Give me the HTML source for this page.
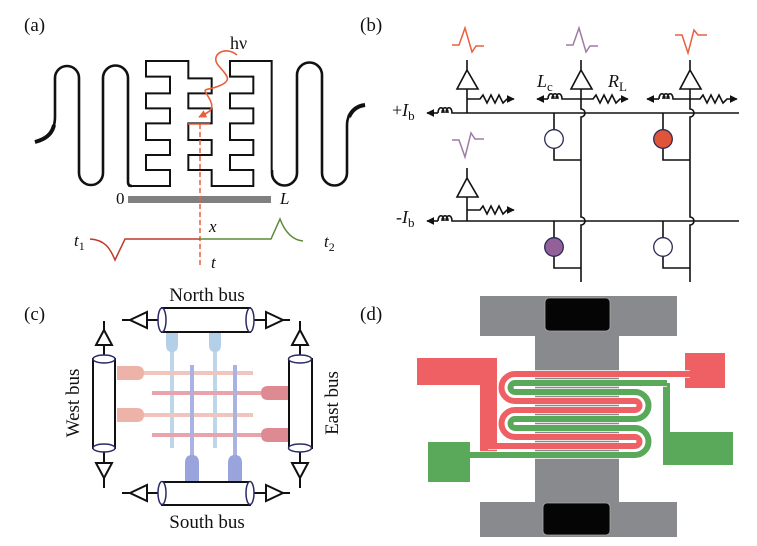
<!DOCTYPE html>
<html><head><meta charset="utf-8"><style>
html,body{margin:0;padding:0;background:#fff;}
svg{display:block;}
text{font-family:"Liberation Serif",serif;fill:#111;}
</style></head><body>
<svg width="757" height="546" viewBox="0 0 757 546" xmlns="http://www.w3.org/2000/svg">
<defs>
<marker id="ah" viewBox="0 0 10 10" refX="9" refY="5" markerWidth="5" markerHeight="5" orient="auto-start-reverse"><path d="M0,0 L10,5 L0,10 z" fill="#111"/></marker>
<marker id="ahr" viewBox="0 0 10 10" refX="9" refY="5" markerWidth="5" markerHeight="5" orient="auto-start-reverse"><path d="M0,0 L10,5 L0,10 z" fill="#e8603c"/></marker>
</defs>

<!-- ===== (a) ===== -->
<text x="24" y="31" font-size="19">(a)</text>
<path d="M35,142 C50,138 55,128 55,117 V78 A12,12 0 0 1 79,78 V173 A12,12 0 0 0 103,173 V78 A12.5,12.5 0 0 1 128,78 V182 Q128,186 132,186" fill="none" stroke="#111" stroke-width="2.6"/>
<path d="M35,142 C46,139 52,134 54,125" fill="none" stroke="#111" stroke-width="4"/>
<g transform="translate(120,55) scale(0.33333)">
<path d="M25,393 H150 V345 H78 V300 H150 V255 H78 V205 H150 V160 H78 V115 H150 V65 H78 V18 H205 V70 H275 V115 H205 V160 H275 V205 H205 V255 H275 V300 H205 V345 H275 V393 H400 V345 H330 V300 H400 V255 H330 V205 H400 V160 H330 V115 H400 V65 H330 V18 H455 V345" fill="none" stroke="#111" stroke-width="6"/>
</g>
<path d="M272,170 V173 A12.5,12.5 0 0 0 297,173 V75 A12.5,12.5 0 0 1 322,75 V173 A12.5,12.5 0 0 0 347,173 V125 C347,114 354,107 365,105" fill="none" stroke="#111" stroke-width="2.6"/>
<path d="M349,117 C352,110 357,106 365,105" fill="none" stroke="#111" stroke-width="4"/>
<rect x="128" y="196" width="143" height="7" fill="#808080"/>
<text x="116" y="204" font-size="17">0</text>
<text x="280" y="204" font-size="17" font-style="italic">L</text>
<line x1="200" y1="124" x2="200" y2="267" stroke="#e8603c" stroke-width="1.5" stroke-dasharray="5,3"/>
<line x1="188" y1="124" x2="210" y2="124" stroke="#e8603c" stroke-width="1.5"/>
<path d="M237,55 C225,45 210,55 218,65 S234,80 219,86 S202,86 209,98 S209,112 199,117" fill="none" stroke="#e8603c" stroke-width="1.6" marker-end="url(#ahr)"/>
<text x="230" y="49" font-size="18">hν</text>
<path d="M90,239 C105,240 110,248 115,260 L125,239 H200" fill="none" stroke="#c0392b" stroke-width="1.5"/>
<path d="M200,239 H271 L280,219 C285,232 292,240 303,241" fill="none" stroke="#5b8a3a" stroke-width="1.5"/>
<text x="74" y="246" font-size="17" font-style="italic">t<tspan font-size="12" dy="4" font-style="normal">1</tspan></text>
<text x="209" y="232" font-size="17" font-style="italic">x</text>
<text x="211" y="268" font-size="17" font-style="italic">t</text>
<text x="324" y="247" font-size="17" font-style="italic">t<tspan font-size="12" dy="4" font-style="normal">2</tspan></text>

<!-- ===== (b) ===== -->
<text x="360" y="31" font-size="19">(b)</text>
<g fill="none" stroke="#111" stroke-width="1.6">
<path d="M458,113 H739"/>
<path d="M458,221 H739"/>
<path d="M438,113 c0,-7 6,-7 6,0 m-2,0 c0,-7 6,-7 6,0 m-2,0 c0,-7 6,-7 6,0 H458"/>
<line x1="438" y1="113" x2="427" y2="113" marker-end="url(#ah)"/>
<path d="M438,221 c0,-7 6,-7 6,0 m-2,0 c0,-7 6,-7 6,0 m-2,0 c0,-7 6,-7 6,0 H458"/>
<line x1="438" y1="221" x2="427" y2="221" marker-end="url(#ah)"/>
<path d="M467,60 V70 M467,70 L457,89 H478 Z M467,89 V113"/>
<path d="M467,99 H480 l3,-4 l4,8 l4,-8 l4,8 l4,-8 l4,8 l4,-4 H514" marker-end="url(#ah)"/>
<path d="M467,168 V178 M467,178 L457,197 H478 Z M467,197 V221"/>
<path d="M467,210 H480 l3,-4 l4,8 l4,-8 l4,8 l4,-8 l4,8 l4,-4 H514" marker-end="url(#ah)"/>
<path d="M581,60 V70 M581,70 L571,89 H592 Z M581,89 V109 a4,4 0 0 1 0,8 V217 a4,4 0 0 1 0,8 V282"/>
<path d="M548,99 c0,-7 6,-7 6,0 m-2,0 c0,-7 6,-7 6,0 m-2,0 c0,-7 6,-7 6,0 H581"/>
<line x1="548" y1="99" x2="537" y2="99" marker-end="url(#ah)"/>
<path d="M581,99 H593 l3,-4 l4,8 l4,-8 l4,8 l4,-8 l4,8 l4,-4 H628" marker-end="url(#ah)"/>
<path d="M690,60 V70 M690,70 L680,89 H701 Z M690,89 V109 a4,4 0 0 1 0,8 V217 a4,4 0 0 1 0,8 V282"/>
<path d="M659,99 c0,-7 6,-7 6,0 m-2,0 c0,-7 6,-7 6,0 m-2,0 c0,-7 6,-7 6,0 H690"/>
<line x1="659" y1="99" x2="647" y2="99" marker-end="url(#ah)"/>
<path d="M690,99 H700 l3,-4 l4,8 l4,-8 l4,8 l4,-8 l4,8 l4,-4 H737" marker-end="url(#ah)"/>
<path d="M554,113 V130 M554,148 V160 H581"/>
<path d="M663,113 V130 M663,148 V160 H690"/>
<path d="M554,221 V238 M554,256 V268 H581"/>
<path d="M663,221 V238 M663,256 V268 H690"/>
</g>
<circle cx="554" cy="139" r="9.3" fill="#fff" stroke="#2a2a55" stroke-width="1.3"/>
<circle cx="663" cy="139" r="9.3" fill="#e0553a" stroke="#2a2a55" stroke-width="1.3"/>
<circle cx="554" cy="247" r="9.3" fill="#94609a" stroke="#2a2a55" stroke-width="1.3"/>
<circle cx="663" cy="247" r="9.3" fill="#fff" stroke="#2a2a55" stroke-width="1.3"/>
<g fill="none" stroke-width="1.5">
<path d="M452,45 H459 L465,28 L472,52 L476,46 H484" stroke="#e8603c"/>
<path d="M566,45 H573 L579,28 L586,52 L590,46 H598" stroke="#a07aa6"/>
<path d="M675,35 H682 L688,53 L694,30 L698,35 H707" stroke="#e8603c"/>
<path d="M452,140 H459 L465,157 L471,133 L475,139 H484" stroke="#a07aa6"/>
</g>
<text x="537" y="87" font-size="18" font-style="italic">L<tspan font-size="13" dy="4" font-style="normal">c</tspan></text>
<text x="608" y="87" font-size="18" font-style="italic">R<tspan font-size="13" dy="4" font-style="normal">L</tspan></text>
<text x="392" y="116" font-size="18">+<tspan font-style="italic">I</tspan><tspan font-size="13" dy="4">b</tspan></text>
<text x="396" y="223" font-size="18">-<tspan font-style="italic">I</tspan><tspan font-size="13" dy="4">b</tspan></text>

<!-- ===== (c) ===== -->
<text x="24" y="320" font-size="19">(c)</text>
<g stroke-linecap="butt">
<line x1="172" y1="340" x2="172" y2="448" stroke="#bcd6ea" stroke-width="4"/>
<line x1="215" y1="340" x2="215" y2="448" stroke="#bcd6ea" stroke-width="4"/>
<path d="M166,333 V345 Q166,352 172,352 Q178,352 178,345 V333 Z" fill="#b4d0e8"/>
<path d="M209,333 V345 Q209,352 215,352 Q221,352 221,345 V333 Z" fill="#b4d0e8"/>
<line x1="117" y1="373" x2="253" y2="373" stroke="#f2c4be" stroke-width="4"/>
<line x1="117" y1="415" x2="253" y2="415" stroke="#f2c4be" stroke-width="4"/>
<path d="M117,366 H137 Q144,366 144,373 Q144,380 137,380 H117 Z" fill="#edb2a8"/>
<path d="M117,408 H137 Q144,408 144,415 Q144,422 137,422 H117 Z" fill="#edb2a8"/>
<line x1="152" y1="393" x2="288" y2="393" stroke="#e8a3ab" stroke-width="4"/>
<line x1="152" y1="435" x2="288" y2="435" stroke="#e8a3ab" stroke-width="4"/>
<path d="M288,386 H268 Q261,386 261,393 Q261,400 268,400 H288 Z" fill="#de8a92"/>
<path d="M288,428 H268 Q261,428 261,435 Q261,442 268,442 H288 Z" fill="#de8a92"/>
<line x1="192" y1="365" x2="192" y2="480" stroke="#a9b2e0" stroke-width="4"/>
<line x1="235" y1="365" x2="235" y2="480" stroke="#a9b2e0" stroke-width="4"/>
<path d="M185,482 V463 Q185,455 192,455 Q199,455 199,463 V482 Z" fill="#9aa4dc"/>
<path d="M228,482 V463 Q228,455 235,455 Q242,455 242,463 V482 Z" fill="#9aa4dc"/>
</g>
<g fill="none" stroke="#111" stroke-width="2">
<rect x="162" y="308" width="88" height="24" fill="#fff"/>
<path d="M122,320 H130 M130,320 L147,312 V328 Z M147,320 H159"/>
<path d="M253,320 H266 M266,312 L283,320 L266,328 Z M283,320 H290"/>
<rect x="162" y="482" width="88" height="23" fill="#fff"/>
<path d="M122,493 H130 M130,493 L147,485 V501 Z M147,493 H159"/>
<path d="M253,493 H266 M266,485 L283,493 L266,501 Z M283,493 H290"/>
<rect x="93" y="359" width="22" height="89" fill="#fff"/>
<path d="M104,321 V330 M104,330 L96,345 H112 Z M104,345 V356"/>
<path d="M104,451 V463 M96,463 H112 L104,478 Z M104,478 V488"/>
<rect x="289" y="359" width="23" height="89" fill="#fff"/>
<path d="M300,321 V330 M300,330 L292,345 H308 Z M300,345 V356"/>
<path d="M300,451 V463 M292,463 H308 L300,478 Z M300,478 V488"/>
</g>
<g fill="#fff" stroke="#2a2a66" stroke-width="1.5">
<ellipse cx="162" cy="320" rx="4" ry="12"/><ellipse cx="250" cy="320" rx="4" ry="12"/>
<ellipse cx="162" cy="493" rx="4" ry="11.5"/><ellipse cx="250" cy="493" rx="4" ry="11.5"/>
<ellipse cx="104" cy="359" rx="11" ry="4"/><ellipse cx="104" cy="448" rx="11" ry="4"/>
<ellipse cx="300" cy="359" rx="11.5" ry="4"/><ellipse cx="300" cy="448" rx="11.5" ry="4"/>
</g>
<text x="207" y="301" font-size="19" text-anchor="middle">North bus</text>
<text x="207" y="528" font-size="19" text-anchor="middle">South bus</text>
<text transform="translate(79,403) rotate(-90)" font-size="19" text-anchor="middle">West bus</text>
<text transform="translate(338,403) rotate(-90)" font-size="19" text-anchor="middle">East bus</text>

<!-- ===== (d) ===== -->
<text x="360" y="320" font-size="19">(d)</text>
<rect x="480" y="296" width="197" height="40" fill="#898a8d"/>
<rect x="535" y="296" width="84" height="240" fill="#898a8d"/>
<rect x="480" y="502" width="197" height="35" fill="#898a8d"/>
<rect x="545" y="298" width="65" height="33" rx="4" fill="#050505" stroke="#aaa" stroke-width="0.8"/>
<rect x="543" y="503" width="67" height="32" rx="4" fill="#050505" stroke="#aaa" stroke-width="0.8"/>
<rect x="417" y="358" width="80" height="27" fill="#ef6064"/>
<rect x="480" y="358" width="17" height="97" fill="#ef6064"/>
<rect x="685" y="353" width="40" height="35" fill="#ef6064"/>
<rect x="428" y="442" width="42" height="40" fill="#5aa85a"/>
<rect x="663" y="432" width="70" height="33" fill="#5aa85a"/>
<rect x="663" y="383" width="7" height="50" fill="#5aa85a"/>
<g fill="none" stroke-linecap="butt">
<path d="M690,374 H515 A13.5,13.5 0 0 0 515,401 H635 A4.5,4.5 0 0 1 635,410 H515 A13.5,13.5 0 0 0 515,437 H635 A4.5,4.5 0 0 1 635,446 H488" stroke="#fff" stroke-width="7.5"/>
<path d="M667,383 H515 A4.5,4.5 0 0 0 515,392 H635 A13.5,13.5 0 0 1 635,419 H515 A4.5,4.5 0 0 0 515,428 H635 A13.5,13.5 0 0 1 635,455 H470" stroke="#fff" stroke-width="7.5"/>
<path d="M690,374 H515 A13.5,13.5 0 0 0 515,401 H635 A4.5,4.5 0 0 1 635,410 H515 A13.5,13.5 0 0 0 515,437 H635 A4.5,4.5 0 0 1 635,446 H488" stroke="#ef6064" stroke-width="6"/>
<path d="M667,383 H515 A4.5,4.5 0 0 0 515,392 H635 A13.5,13.5 0 0 1 635,419 H515 A4.5,4.5 0 0 0 515,428 H635 A13.5,13.5 0 0 1 635,455 H470" stroke="#5aa85a" stroke-width="6"/>
</g>
<rect x="480" y="440" width="17" height="9" fill="#ef6064"/>
</svg>
</body></html>
